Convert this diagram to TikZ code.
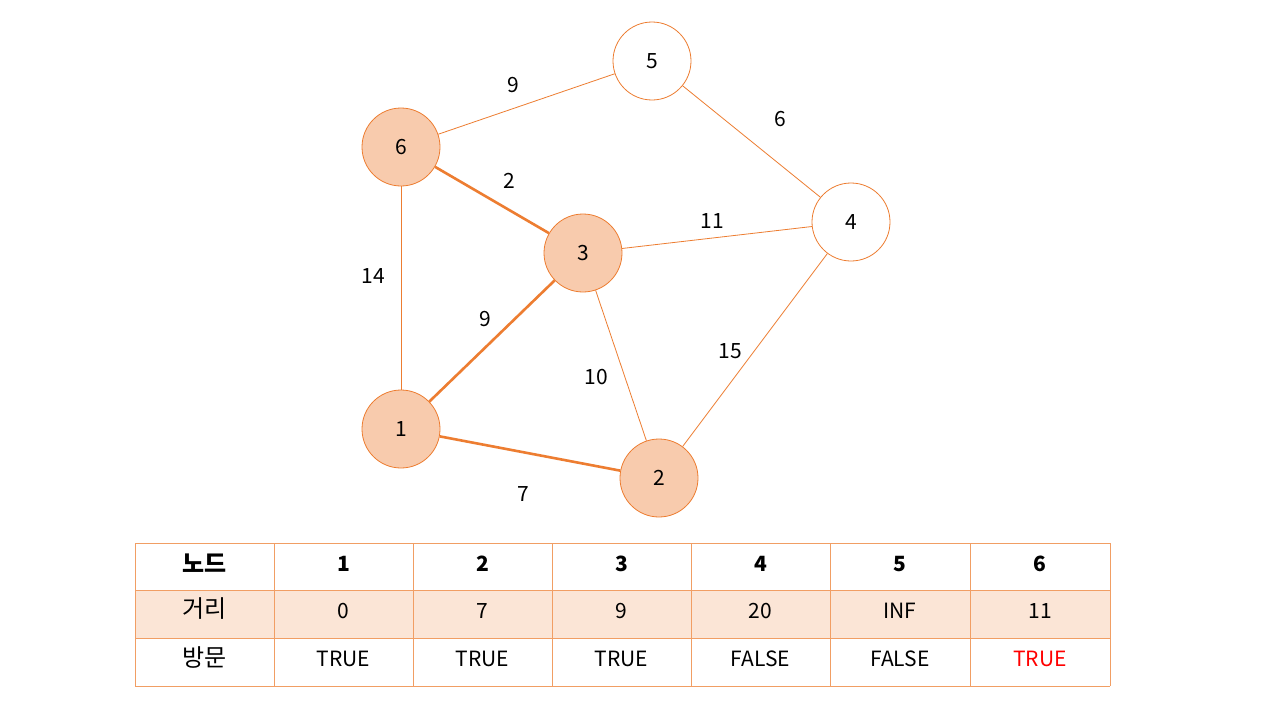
\documentclass[tikz,border=0pt]{standalone}
\usepackage{fontspec}
\setmainfont{Noto Sans CJK KR}
\definecolor{acc}{HTML}{ED7D31}
\definecolor{nfill}{HTML}{F8CBAD}
\definecolor{rowfill}{HTML}{FBE5D6}
\colorlet{tline}{acc!75}
\begin{document}
\begin{tikzpicture}[x=1pt,y=-1pt,
  vis/.style={circle,draw=acc,line width=0.8pt,fill=nfill,minimum size=78pt,inner sep=0pt,font=\fontsize{21}{24}\selectfont},
  unv/.style={circle,draw=acc,line width=0.8pt,fill=white,minimum size=78pt,inner sep=0pt,font=\fontsize{21}{24}\selectfont},
  thin/.style={draw=acc,line width=0.8pt},
  thick/.style={draw=acc,line width=2.6pt},
  wlab/.style={font=\fontsize{21}{24}\selectfont,inner sep=0pt},
  cell/.style={font=\fontsize{21}{24}\selectfont,inner sep=0pt},
  kcell/.style={font=\fontsize{24}{26}\selectfont,inner sep=0pt},
  hcell/.style={font=\fontsize{21}{24}\selectfont\bfseries,inner sep=0pt},
  hkcell/.style={font=\fontsize{24}{26}\selectfont\bfseries,inner sep=0pt}]
\useasboundingbox (0,0) rectangle (1280,720);
\fill[white] (0,0) rectangle (1280,720);
% nodes
\node[unv] (n5) at (652,61) {5};
\node[vis] (n6) at (401,147) {6};
\node[vis] (n3) at (583,253) {3};
\node[unv] (n4) at (851,222) {4};
\node[vis] (n1) at (401,429) {1};
\node[vis] (n2) at (659,478) {2};
% edges
\draw[thin] (n6) -- (n5);
\draw[thin] (n5) -- (n4);
\draw[thick] (n6) -- (n3);
\draw[thin] (n3) -- (n4);
\draw[thin] (n6) -- (n1);
\draw[thick] (n1) -- (n3);
\draw[thin] (n3) -- (n2);
\draw[thin] (n4) -- (n2);
\draw[thick] (n1) -- (n2);
% weights
\node[wlab] (w65) at (513,85) {9};
\node[wlab] (w54) at (780,119) {6};
\node[wlab] (w63) at (509,181) {2};
\node[wlab] (w34) at (712,221) {11};
\node[wlab] (w61) at (373,276) {14};
\node[wlab] (w13) at (485,319) {9};
\node[wlab] (w32) at (596,377) {10};
\node[wlab] (w42) at (730,351) {15};
\node[wlab] (w12) at (523,494) {7};
% table
\fill[rowfill] (135,590) rectangle (1110,638);
\foreach \y in {543,590,638,686} \draw[tline,line width=1pt] (135,\y) -- (1110,\y);
\foreach \x in {135,274,413,552,691,830,970,1110} \draw[tline,line width=1pt] (\x,543) -- (\x,686);
\node[hkcell] (h0) at (204.5,563) {노드};
\node[hcell] (h1) at (343.5,564) {1};
\node[hcell] (h2) at (482.5,564) {2};
\node[hcell] (h3) at (621.5,564) {3};
\node[hcell] (h4) at (760.5,564) {4};
\node[hcell] (h5) at (900,564) {5};
\node[hcell] (h6) at (1040,564) {6};
\node[kcell] (d0) at (204.5,609) {거리};
\node[cell] (d1) at (343.5,611) {0};
\node[cell] (d2) at (482.5,611) {7};
\node[cell] (d3) at (621.5,611) {9};
\node[cell] (d4) at (760.5,611) {20};
\node[cell] (d5) at (900,611) {INF};
\node[cell] (d6) at (1040,611) {11};
\node[kcell] (v0) at (204.5,657) {방문};
\node[cell] (v1) at (343.5,659) {TRUE};
\node[cell] (v2) at (482.5,659) {TRUE};
\node[cell] (v3) at (621.5,659) {TRUE};
\node[cell] (v4) at (760.5,659) {FALSE};
\node[cell] (v5) at (900,659) {FALSE};
\node[cell,text=red] (v6) at (1040,659) {TRUE};
\end{tikzpicture}
\end{document}
